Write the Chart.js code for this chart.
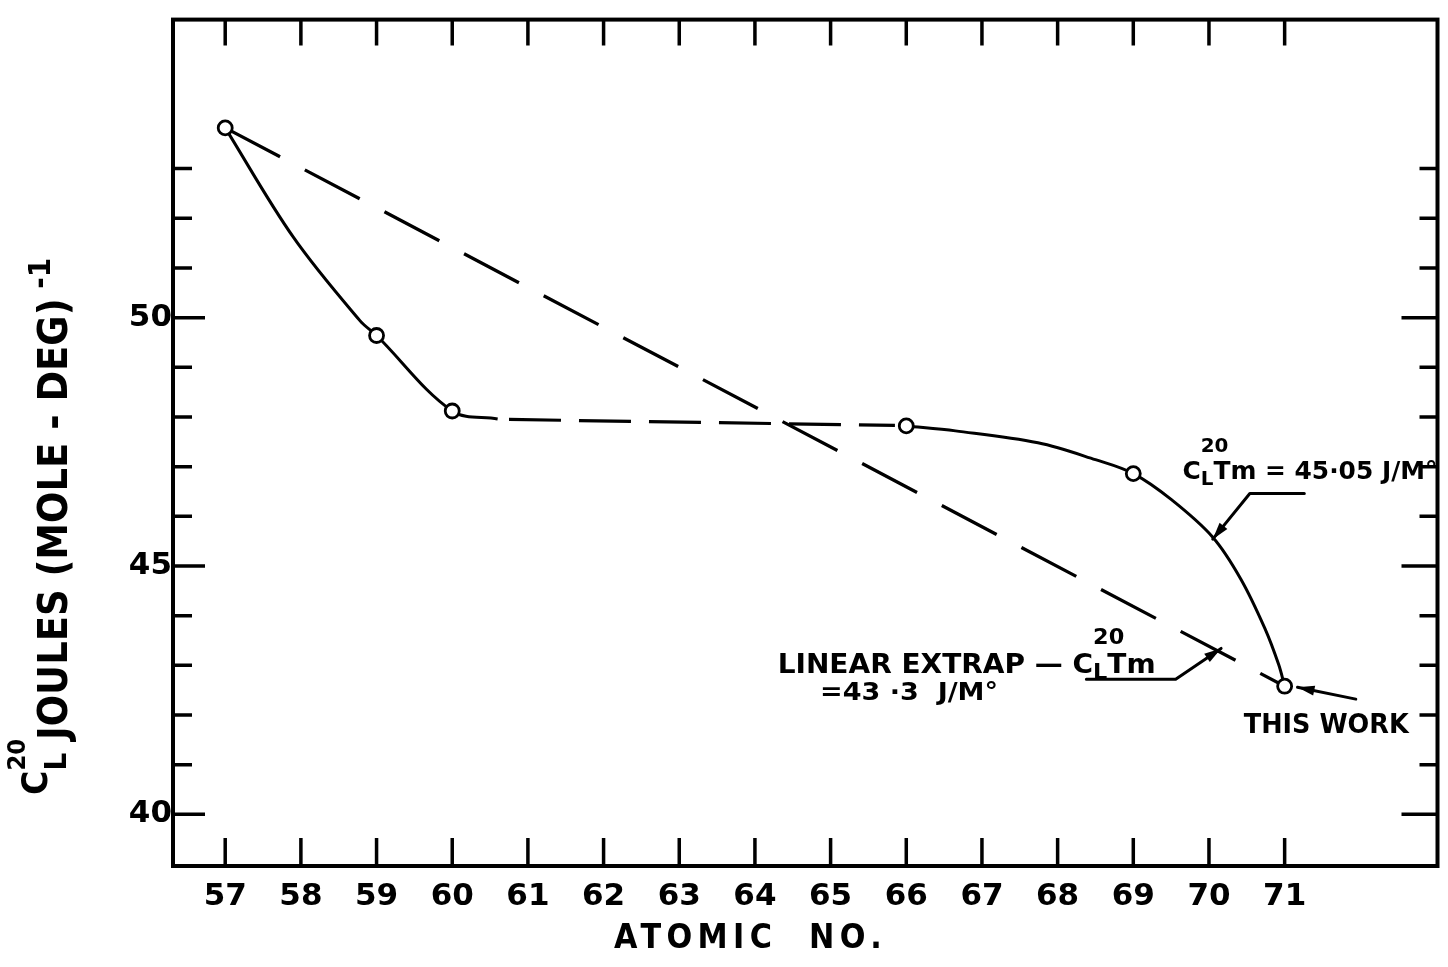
<!DOCTYPE html>
<html><head><meta charset="utf-8">
<script src="https://cdn.jsdelivr.net/npm/chart.js@4.4.1/dist/chart.umd.min.js"></script>
<style>html,body{margin:0;padding:0;background:#fff;}#wrap{width:1448px;height:967px;position:relative;}</style>
</head><body><div id="wrap"><canvas id="c"></canvas></div>
<script>
// ---- data ----
const xTickValues = [57,58,59,60,61,62,63,64,65,66,67,68,69,70,71];
const yTickValues = [40,41,42,43,44,45,46,47,48,49,50,51,52,53];
const yLabelValues = [40,45,50];
const measuredZ = [57,59,60,66,69,71];
const measuredC = [53.82,49.64,48.12,47.82,46.86,42.58];
const leftCurveZ = [57,57.90,58.78,59,60,60.6];
const leftCurveC = [53.82,51.62,49.94,49.64,48.12,47.96];
const bridgeZ = [60.75,65.85];
const bridgeC = [47.95,47.83];
const rightCurveZ = [66,66.65,67.74,68.5,69,69.5,70.05,70.42,70.74,70.92,71];
const rightCurveC = [47.82,47.72,47.48,47.14,46.86,46.34,45.58,44.74,43.74,43.02,42.58];
const linearZ = [57,71];
const linearC = [53.82,42.58];

const pts = (xs, ys) => xs.map((x, i) => ({x: x, y: ys[i]}));
const FAM = '"DejaVu Sans"';

// annotations (anchored in data coordinates)
const notes = [
  {x:69.65, y:46.92, size:24, width:255, parts:[{t:'C'},{t:'L',rel:0.8,dy:0.22},{t:'20',rel:0.8,dy:-1.12,back:true},{t:'Tm = 45·05 J/M°'}]},
  {x:64.30, y:43.04, size:26, width:378, parts:[{t:'LINEAR EXTRAP — C'},{t:'L',rel:0.8,dy:0.22},{t:'20',rel:0.8,dy:-1.1,back:true},{t:'Tm'}]},
  {x:64.86, y:42.48, size:24, width:178, parts:[{t:'=43 ·3  J/M°'}]},
  {x:70.46, y:41.84, size:27, width:165, parts:[{t:'THIS WORK'}]}
];
const leaders = [
  [[71.26,46.46],[70.54,46.46],[70.05,45.54]],
  [[68.38,42.72],[69.56,42.72],[70.16,43.34]],
  [[71.94,42.32],[71.17,42.56]]
];

function drawRich(ctx, parts, size, width, spacing) {
  ctx.save();
  ctx.textBaseline = 'alphabetic';
  ctx.textAlign = 'left';
  try { ctx.letterSpacing = (spacing || 0) + 'px'; } catch (e) {}
  let pos = 0, lastStart = 0; const items = [];
  for (const p of parts) {
    const s = size * (p.rel || 1);
    ctx.font = 'bold ' + s + 'px ' + FAM;
    const w = ctx.measureText(p.t).width;
    const start = p.back ? lastStart : pos;
    items.push({p: p, s: s, start: start});
    if (!p.back) { lastStart = pos; pos += w; }
  }
  const sx = width ? width / pos : 1;
  ctx.scale(sx, 1);
  ctx.fillStyle = '#000';
  for (const it of items) {
    ctx.font = 'bold ' + it.s + 'px ' + FAM;
    ctx.fillText(it.p.t, it.start, (it.p.dy || 0) * size);
  }
  ctx.restore();
}

function leader(ctx, pp) {
  ctx.save();
  ctx.strokeStyle = '#000'; ctx.fillStyle = '#000'; ctx.lineWidth = 3; ctx.lineCap = 'round'; ctx.lineJoin = 'round';
  ctx.beginPath();
  pp.forEach((p, i) => i ? ctx.lineTo(p[0], p[1]) : ctx.moveTo(p[0], p[1]));
  ctx.stroke();
  const a = pp[pp.length - 2], b = pp[pp.length - 1];
  const ang = Math.atan2(b[1] - a[1], b[0] - a[0]);
  const L = 17, W = 5;
  ctx.beginPath();
  ctx.moveTo(b[0], b[1]);
  ctx.lineTo(b[0] - L * Math.cos(ang) + W * Math.sin(ang), b[1] - L * Math.sin(ang) - W * Math.cos(ang));
  ctx.lineTo(b[0] - L * Math.cos(ang) - W * Math.sin(ang), b[1] - L * Math.sin(ang) + W * Math.cos(ang));
  ctx.closePath(); ctx.fill();
  ctx.restore();
}

const paper = {
  id: 'paper',
  beforeDraw(chart) {
    const ctx = chart.ctx;
    ctx.save(); ctx.fillStyle = '#fff'; ctx.fillRect(0, 0, chart.width, chart.height); ctx.restore();
  },
  beforeDatasetsDraw(chart) {
    const ctx = chart.ctx, a = chart.chartArea, xs = chart.scales.x, ys = chart.scales.y;
    ctx.save();
    ctx.strokeStyle = '#000'; ctx.lineWidth = 4; ctx.lineJoin = 'miter';
    ctx.strokeRect(a.left, a.top, a.right - a.left, a.bottom - a.top);
    ctx.lineWidth = 3.5; ctx.lineCap = 'butt';
    ctx.beginPath();
    for (const v of xTickValues) {
      const px = xs.getPixelForValue(v);
      ctx.moveTo(px, a.top); ctx.lineTo(px, a.top + 26);
      ctx.moveTo(px, a.bottom); ctx.lineTo(px, a.bottom - 28);
    }
    for (const v of yTickValues) {
      const py = ys.getPixelForValue(v);
      const major = yLabelValues.includes(v);
      ctx.moveTo(a.left, py); ctx.lineTo(a.left + (major ? 32 : 19), py);
      ctx.moveTo(a.right, py); ctx.lineTo(a.right - (major ? 36 : 18), py);
    }
    ctx.stroke();
    ctx.restore();
  },
  afterDraw(chart) {
    const ctx = chart.ctx, xs = chart.scales.x, ys = chart.scales.y;
    // axis titles
    ctx.save();
    ctx.translate(614, 948);
    drawRich(ctx, [{t:'ATOMIC  NO.'}], 34, 273, 6);
    ctx.restore();
    ctx.save();
    ctx.translate(67, 795);
    ctx.rotate(-Math.PI / 2);
    drawRich(ctx, [{t:'C',rel:0.9,dy:-0.5},{t:'L',rel:0.75,dy:-0.03},{t:'20',rel:0.62,dy:-1.05,back:true},
                   {t:' JOULES (MOLE - DEG)'},{t:' -1',rel:0.75,dy:-0.42}], 40, 537, 0);
    ctx.restore();
    // annotations
    for (const n of notes) {
      ctx.save();
      ctx.translate(xs.getPixelForValue(n.x), ys.getPixelForValue(n.y) + 0.365 * n.size);
      drawRich(ctx, n.parts, n.size, n.width, 0);
      ctx.restore();
    }
    for (const l of leaders) {
      leader(ctx, l.map(p => [xs.getPixelForValue(p[0]), ys.getPixelForValue(p[1])]));
    }
  }
};

const tickFont = {family: 'DejaVu Sans', size: 31, weight: 'bold'};
function isTick(v, list) { const r = Math.round(v); return Math.abs(v - r) < 1e-6 && list.includes(r) ? String(r) : ''; }

new Chart(document.getElementById('c'), {
  type: 'scatter',
  data: {
    datasets: [
      {label:'Measured', data: pts(measuredZ, measuredC), showLine:false, pointRadius:7, pointBorderWidth:2.8,
       pointBackgroundColor:'#fff', pointBorderColor:'#000', order:0},
      {label:'Curve (light)', data: pts(leftCurveZ, leftCurveC), showLine:true, borderColor:'#000', borderWidth:3,
       pointRadius:0, tension:0.35, order:1},
      {label:'Bridge', data: pts(bridgeZ, bridgeC), showLine:true, borderColor:'#000', borderWidth:3.2,
       borderDash:[52,18], pointRadius:0, order:2},
      {label:'Curve (heavy)', data: pts(rightCurveZ, rightCurveC), showLine:true, borderColor:'#000', borderWidth:3,
       pointRadius:0, tension:0.35, order:3},
      {label:'Linear extrapolation', data: pts(linearZ, linearC), showLine:true, borderColor:'#000', borderWidth:3.3,
       borderDash:[62,28], pointRadius:0, order:4}
    ]
  },
  options: {
    responsive: true, maintainAspectRatio: false, animation: false,
    layout: {padding: {left: 0, top: 13, right: 8, bottom: 0}},
    plugins: {legend: {display: false}, tooltip: {enabled: false}},
    scales: {
      x: {type:'linear', min:56.31, max:73.02,
          grid:{display:false, drawTicks:false}, border:{display:false},
          ticks:{stepSize:1, includeBounds:false, autoSkip:false, maxRotation:0, minRotation:0, padding:12,
                 font:tickFont, color:'#000', callback:(v) => isTick(v, xTickValues)},
          afterFit:(s) => { s.height = 101; }},
      y: {type:'linear', min:38.96, max:56,
          grid:{display:false, drawTicks:false}, border:{display:false},
          ticks:{stepSize:1, includeBounds:false, autoSkip:false, padding:1,
                 font:tickFont, color:'#000', callback:(v) => isTick(v, yLabelValues)},
          afterFit:(s) => { s.width = 173; }}
    }
  },
  plugins: [paper]
});
</script>
</body></html>
